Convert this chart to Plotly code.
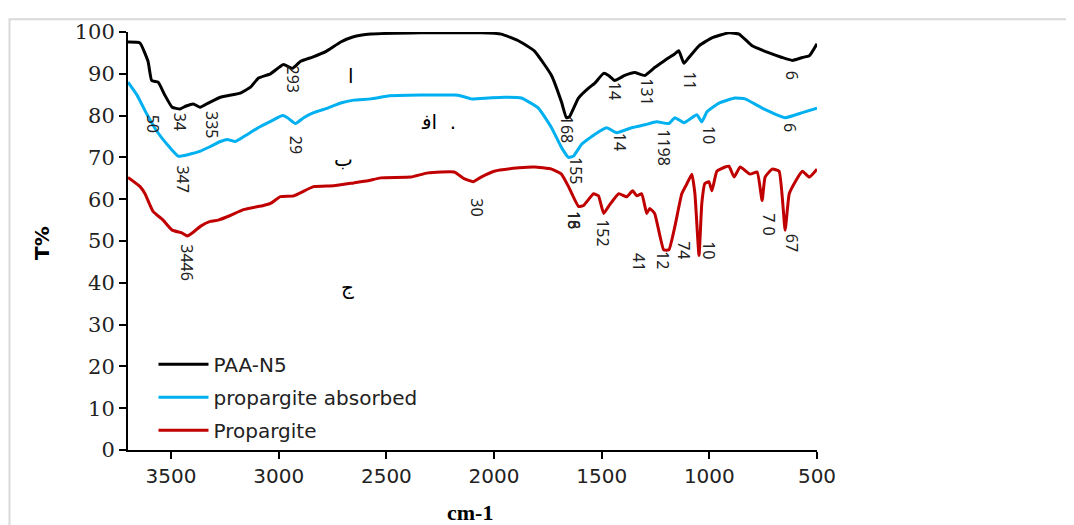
import plotly.graph_objects as go

# ---- data ----
paa_x = [3700, 3645, 3607, 3590, 3560, 3530, 3495, 3458, 3430, 3397, 3365, 3327, 3271, 3178, 3131, 3094,
         3038, 2978, 2936, 2898, 2843, 2782, 2712, 2656, 2572, 2339, 2060, 1967, 1887, 1813, 1733, 1687,
         1664, 1650, 1608, 1561, 1533, 1491, 1468, 1440, 1393, 1347, 1300, 1254, 1207, 1160, 1142, 1118,
         1095, 1048, 988, 909, 862, 801, 722, 662, 615, 568, 536, 500]
paa_y = [97.6, 97.4, 93.0, 88.4, 88.0, 85.0, 82.0, 81.6, 82.3, 82.8, 82.0, 83.0, 84.4, 85.4, 86.8, 89.0,
         90.0, 92.2, 91.3, 93.0, 94.0, 95.3, 97.6, 98.8, 99.5, 99.8, 99.8, 99.5, 97.9, 95.5, 89.6, 83.3,
         79.5, 79.7, 84.2, 86.6, 87.7, 90.1, 89.6, 88.4, 89.6, 90.3, 89.6, 91.5, 93.2, 94.8, 95.5, 92.5,
         93.9, 96.7, 98.6, 99.8, 99.5, 96.7, 95.0, 93.9, 93.2, 93.9, 94.3, 97.2]

abs_x = [3700, 3658, 3611, 3565, 3518, 3467, 3411, 3364, 3318, 3271, 3239, 3201, 3146, 3085, 3024, 2982,
         2959, 2922, 2884, 2838, 2773, 2712, 2652, 2572, 2493, 2339, 2185, 2153, 2106, 2027, 1953, 1873,
         1794, 1733, 1687, 1654, 1631, 1594, 1533, 1477, 1431, 1361, 1300, 1244, 1188, 1160, 1118, 1058,
         1035, 1011, 955, 881, 834, 755, 648, 568, 500]
abs_y = [88.0, 84.9, 80.2, 76.2, 73.1, 70.3, 70.8, 71.5, 72.6, 73.8, 74.3, 73.8, 75.5, 77.4, 79.0, 80.0,
         79.5, 78.1, 79.5, 80.7, 81.8, 83.0, 83.7, 84.0, 84.7, 84.9, 84.9, 84.7, 84.0, 84.2, 84.4, 84.2,
         81.8, 77.1, 72.4, 70.0, 70.3, 73.1, 75.5, 77.1, 75.9, 77.1, 77.8, 78.5, 78.1, 79.5, 78.3, 80.2,
         78.5, 80.9, 83.0, 84.2, 84.0, 81.8, 79.5, 80.7, 81.8]

pro_x = [3700, 3644, 3621, 3584, 3537, 3495, 3448, 3425, 3402, 3364, 3318, 3281, 3225, 3164, 3071, 3038,
         2992, 2931, 2838, 2745, 2652, 2586, 2526, 2386, 2307, 2185, 2139, 2097, 2060, 1999, 1883, 1813,
         1733, 1687, 1654, 1608, 1584, 1538, 1515, 1491, 1468, 1421, 1384, 1356, 1337, 1314, 1291, 1277,
         1254, 1212, 1188, 1160, 1128, 1104, 1081, 1067, 1048, 1035, 1021, 1002, 988, 965, 927, 909, 885,
         857, 811, 778, 755, 741, 708, 676, 648, 629, 601, 568, 536, 500]
pro_y = [65.2, 63.0, 61.3, 57.1, 55.0, 52.6, 51.9, 51.2, 51.9, 53.5, 54.7, 55.0, 56.1, 57.5, 58.5, 59.0,
         60.6, 60.8, 63.0, 63.2, 63.9, 64.4, 65.1, 65.3, 66.3, 66.5, 64.9, 64.2, 65.3, 66.7, 67.5, 67.7,
         67.2, 66.0, 63.0, 58.3, 58.5, 61.3, 60.8, 56.6, 58.3, 61.3, 60.6, 62.0, 60.8, 61.3, 56.6, 57.8,
         56.6, 47.9, 47.9, 53.5, 61.3, 63.7, 66.0, 61.3, 46.5, 59.0, 63.7, 64.2, 62.0, 66.7, 67.7, 67.9, 65.3,
         67.7, 66.0, 66.5, 59.7, 65.3, 67.2, 66.7, 52.6, 61.3, 64.2, 66.7, 65.3, 67.2]

series_names = ["PAA-N5", "propargite absorbed", "Propargite"]
series_colors = ["#000000", "#00B0F0", "#C00000"]

x_ticks = [3500, 3000, 2500, 2000, 1500, 1000, 500]
y_ticks = [0, 10, 20, 30, 40, 50, 60, 70, 80, 90, 100]

# peak labels: (text, wavenumber, T% at top of rotated label)
peak_labels = [
    ("293", 2936, 91.5), ("34", 3458, 80.2), ("335", 3309, 80.7), ("50", 3583, 79.7),
    ("14", 1440, 87.7), ("131", 1291, 88.4), ("11", 1090, 90.1), ("6", 615, 90.3),
    ("168", 1664, 79.5),
    ("29", 2922, 74.8), ("347", 3444, 67.7), ("14", 1417, 75.5), ("1198", 1212, 76.2),
    ("10", 1002, 77.1), ("6", 629, 77.8), ("155", 1617, 69.6),
    ("3446", 3425, 48.8), ("30", 2083, 59.7), ("16", 1631, 56.6), ("18", 1631, 56.6),
    ("152", 1491, 54.7), ("41", 1328, 46.7), ("12", 1212, 47.2), ("74", 1118, 49.5),
    ("10", 1002, 49.5), ("7 0", 722, 56.1), ("67", 615, 51.2),
]
arabic_labels = [("ا", 2666, 89.4), ("اﻓ  .", 2260, 78.5), ("ب", 2698, 69.6), ("ج", 2679, 38.9)]

fig = go.Figure()
for i, (xs, ys, name, col) in enumerate(zip([paa_x, abs_x, pro_x], [paa_y, abs_y, pro_y],
                                             series_names, series_colors)):
    fig.add_trace(go.Scatter(x=xs, y=ys, mode="lines", name=name, legendgroup=f"g{i}",
                             line=dict(color=col, width=3, shape="spline", smoothing=0.4)))

annotations = []
for txt, xv, yv in peak_labels:
    annotations.append(dict(x=xv, y=yv, xref="x", yref="y", text=txt, textangle=90,
                            showarrow=False, xanchor="center", yanchor="top", borderpad=0,
                            yshift=3,
                            font=dict(family="Noto Sans", size=16, color="#222222")))
for txt, xv, yv in arabic_labels:
    annotations.append(dict(x=xv, y=yv, xref="x", yref="y", text=txt, showarrow=False,
                            xanchor="center", yanchor="middle",
                            font=dict(family="DejaVu Sans", size=20, color="#000000")))
annotations.append(dict(x=-0.125, y=0.495, xref="paper", yref="paper", text="<b>T%</b>",
                        textangle=-90, showarrow=False, xanchor="center", yanchor="middle",
                        font=dict(family="DejaVu Sans", size=20, color="#000000")))
annotations.append(dict(x=0.496, y=-0.149, xref="paper", yref="paper", text="<b>cm-1</b>",
                        showarrow=False, xanchor="center", yanchor="middle",
                        font=dict(family="Liberation Serif", size=22, color="#000000")))

# page body adds an 8px offset; figure sized so the plot lands where the reference has it
fig.update_layout(
    width=1066, height=517,
    margin=dict(l=120, r=257, t=18, b=75),
    paper_bgcolor="white", plot_bgcolor="white",
    showlegend=True,
    legend=dict(x=0.037, y=0.252, xanchor="left", yanchor="top",
                font=dict(family="DejaVu Sans", size=20, color="#222222"),
                bgcolor="rgba(0,0,0,0)", tracegroupgap=4, itemwidth=50),
    annotations=annotations,
    shapes=[dict(type="rect", xref="paper", yref="paper",
                 x0=-118.5/689, x1=(1075-120)/689, y0=(442-530)/424, y1=(442-5)/424,
                 line=dict(color="#d9d9d9", width=2), layer="below")],
    xaxis=dict(range=[3700, 500], tickvals=x_ticks, ticks="outside", ticklen=7, tickwidth=2,
               tickcolor="black", showline=True, linecolor="black", linewidth=2, showgrid=False,
               zeroline=False, tickfont=dict(family="DejaVu Sans", size=20, color="#222222")),
    yaxis=dict(range=[0, 100], tickvals=y_ticks, ticks="outside", ticklen=7, tickwidth=2,
               tickcolor="black", showline=True, linecolor="black", linewidth=2, showgrid=False,
               zeroline=False, tickfont=dict(family="DejaVu Serif", size=21, color="#222222")),
)

fig.write_html("out.html")
